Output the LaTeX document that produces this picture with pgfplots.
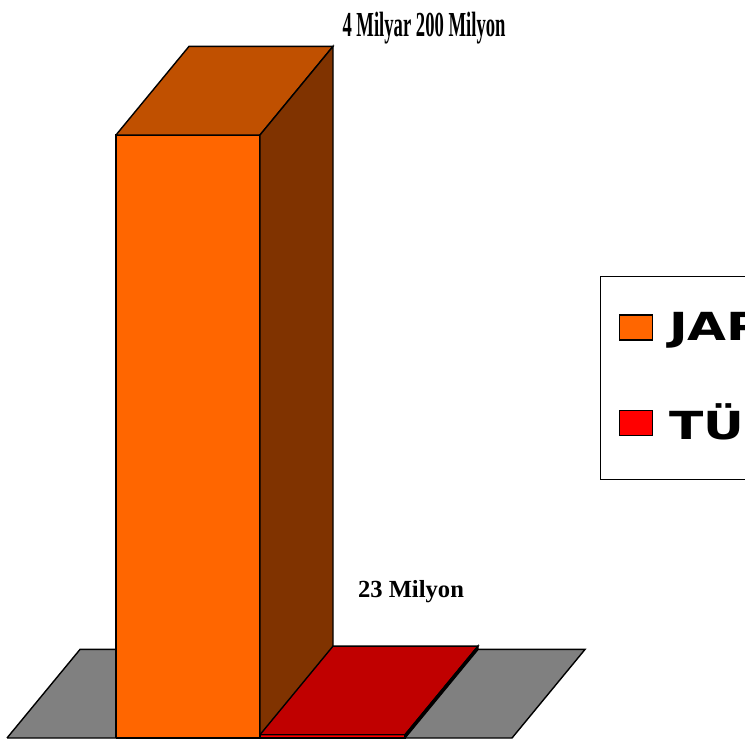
\documentclass[border=0pt]{standalone}
\usepackage{fontspec}
\setmainfont{Liberation Serif}
\newfontfamily\legendfont{DejaVu Sans}
\usepackage{pgfplots}
\pgfplotsset{compat=1.18}

\definecolor{orfront}{HTML}{FF6600}
\definecolor{ortop}{HTML}{C05000}
\definecolor{orside}{HTML}{803300}
\definecolor{rdtop}{HTML}{C00000}
\definecolor{rdfront}{HTML}{FF0000}
\definecolor{floorgray}{HTML}{808080}

\begin{document}
\begin{tikzpicture}
\useasboundingbox (0,0) rectangle (7.45cm,7.44cm);
\clip (0,0) rectangle (7.45cm,7.44cm);
\begin{axis}[
    at={(0,0)}, anchor=south west,
    scale only axis,
    width=7.45cm, height=7.44cm,
    xmin=0, xmax=745,
    ymin=-41.8, ymax=5140,
    hide axis,
    clip=false,
    every axis plot/.append style={draw=black, line width=0.4pt, line join=miter},
    legend style={
        at={(axis cs:600,3218)}, anchor=north west,
        draw=black, line width=0.4pt, fill=white,
        inner xsep=0.18cm, inner ysep=0.35cm,
        row sep=0.58cm, column sep=0.16cm,
        nodes={inner sep=0pt},
        font=\legendfont\bfseries\fontsize{11}{12}\selectfont,
    },
    legend cell align=left,
    legend image code/.code={
        \draw[#1, draw=black, line width=0.4pt] (0cm,-0.115cm) rectangle (0.33cm,0.135cm);
    },
]
% floor
\addplot[fill=floorgray, forget plot] coordinates {(7,0) (512,0) (585,617) (80,617) (7,0)};

% JAPONYA: 4200 million
\addplot[fill=orfront, forget plot] coordinates {(116,0) (260,0) (260,4200) (116,4200) (116,0)};
\addplot[fill=ortop, forget plot] coordinates {(116,4200) (189,4817) (333,4817) (260,4200) (116,4200)};
\addplot[fill=orside, forget plot] coordinates {(260,0) (333,617) (333,4817) (260,4200) (260,0)};

% TURKIYE: 23 million
\addplot[fill=rdfront, forget plot] coordinates {(260,0) (405,0) (405,23) (260,23) (260,0)};
\addplot[fill=rdtop, forget plot] coordinates {(260,23) (333,640) (478,640) (405,23) (260,23)};
\addplot[fill=black, forget plot] coordinates {(405,0) (478,617) (478,640) (405,23) (405,0)};

\addlegendimage{fill=orfront}
\addlegendentry{\scalebox{1.3}[1]{JAPONYA}}
\addlegendimage{fill=rdfront}
\addlegendentry{\scalebox{1.3}[1]{TÜRKİYE}}

\node[anchor=base, font=\bfseries\fontsize{10}{12}\selectfont] at (axis cs:424,4889)
    {\scalebox{0.53}[1]{4 Milyar 200 Milyon}};
\node[anchor=base, font=\bfseries\fontsize{7}{8}\selectfont] at (axis cs:411,982)
    {23 Milyon};
\end{axis}
\end{tikzpicture}
\end{document}
